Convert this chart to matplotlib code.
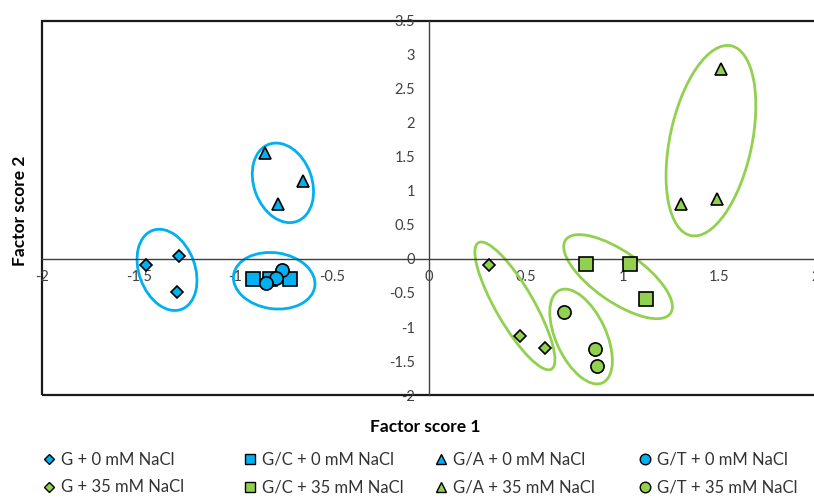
import numpy as np
import matplotlib
matplotlib.use("Agg")
import matplotlib.pyplot as plt
from matplotlib.patches import Ellipse, Rectangle
from matplotlib.transforms import ScaledTranslation
from matplotlib.ticker import FuncFormatter

plt.rcParams['font.family'] = ['Lato', 'DejaVu Sans']
plt.rcParams['axes.unicode_minus'] = False

blue = '#00B0F0'
green = '#92D050'

# factor scores
g0_x = [-1.46, -1.29, -1.30]
g0_y = [-0.09, 0.04, -0.49]
gc0_x = [-0.91, -0.82, -0.72]
gc0_y = [-0.29, -0.29, -0.29]
ga0_x = [-0.85, -0.65, -0.78]
ga0_y = [1.56, 1.15, 0.81]
gt0_x = [-0.76, -0.79, -0.84]
gt0_y = [-0.16, -0.28, -0.35]

g35_x = [0.31, 0.47, 0.60]
g35_y = [-0.09, -1.13, -1.31]
gc35_x = [0.81, 1.04, 1.12]
gc35_y = [-0.07, -0.07, -0.59]
ga35_x = [1.51, 1.49, 1.30]
ga35_y = [2.79, 0.88, 0.81]
gt35_x = [0.70, 0.86, 0.87]
gt35_y = [-0.78, -1.32, -1.57]

labels0 = ["G + 0 mM NaCl", "G/C + 0 mM NaCl", "G/A + 0 mM NaCl", "G/T + 0 mM NaCl"]
labels35 = ["G + 35 mM NaCl", "G/C + 35 mM NaCl", "G/A + 35 mM NaCl", "G/T + 35 mM NaCl"]

# group outlines: centre (data), width/height (inches), angle (deg), colour
groups = [
    ((-1.354, -0.16), 0.84, 0.56, 110, blue),
    ((-0.755, 1.12), 0.82, 0.58, 110, blue),
    ((-0.80, -0.32), 0.82, 0.56, -8, blue),
    ((0.444, -0.69), 1.46, 0.38, -60, green),
    ((0.786, -1.14), 1.02, 0.50, -65, green),
    ((0.977, -0.26), 1.28, 0.50, -35, green),
    ((1.457, 1.74), 1.94, 0.82, 78, green),
]

fig = plt.figure(figsize=(8.14, 4.98), dpi=100)
ax = fig.add_axes([42 / 814, 103 / 498, 774 / 814, 374 / 498])

series = [
    (g0_x, g0_y, 'D', 6.5, blue), (gc0_x, gc0_y, 's', 9.5, blue),
    (ga0_x, ga0_y, '^', 8.5, blue), (gt0_x, gt0_y, 'o', 9.5, blue),
    (g35_x, g35_y, 'D', 6.5, green), (gc35_x, gc35_y, 's', 9.5, green),
    (ga35_x, ga35_y, '^', 8.5, green), (gt35_x, gt35_y, 'o', 9.5, green),
]
handles = []
for x, y, m, ms, c in series:
    ax.plot(x, y, ls='none', marker=m, ms=ms, mfc=c, mec='black', mew=1.2, zorder=3)
    h, = ax.plot([], [], ls='none', marker=m, ms=ms * 0.8, mfc=c, mec='black', mew=1.0)
    handles.append(h)

for (cx, cy), w, h, ang, c in groups:
    tr = fig.dpi_scale_trans + ScaledTranslation(cx, cy, ax.transData)
    ax.add_patch(Ellipse((0, 0), w, h, angle=ang, transform=tr, fill=False,
                         ec=c, lw=2.0, zorder=2))

ax.set_xlim(-2, 2)
ax.set_ylim(-2, 3.5)
ax.set_xticks(np.arange(-2, 2.01, 0.5))
ax.set_yticks(np.arange(-2, 3.51, 0.5))
fmt = FuncFormatter(lambda v, p: '%g' % v)
ax.xaxis.set_major_formatter(fmt)
ax.yaxis.set_major_formatter(fmt)
ax.tick_params(length=0, labelsize=10.5, labelcolor='#404040')
ax.tick_params(axis='y', pad=10)
ax.tick_params(axis='x', pad=8)

ax.spines['left'].set_position(('data', 0))
ax.spines['bottom'].set_position(('data', 0))
ax.spines['top'].set_visible(False)
ax.spines['right'].set_visible(False)
for s in ['left', 'bottom']:
    ax.spines[s].set_color('#404040')
    ax.spines[s].set_linewidth(1.0)
ax.add_patch(Rectangle((0, 0), 1, 1, transform=ax.transAxes, fill=False,
                       ec='#1a1a1a', lw=1.6, clip_on=False, zorder=1))

fig.text(425 / 814, 1 - 427 / 498, "Factor score 1", ha='center', va='center',
         fontweight='bold', fontsize=12.5)
fig.text(20 / 814, 1 - 211 / 498, "Factor score 2", ha='center', va='center',
         rotation=90, fontweight='bold', fontsize=12.5)

col_x = [49, 250, 441, 645]
for i in range(4):
    fig.legend([handles[i], handles[i + 4]], [labels0[i], labels35[i]],
               loc='center left', bbox_to_anchor=((col_x[i] - 8) / 814, 1 - 473.5 / 498),
               frameon=False, fontsize=12, handlelength=0.9, handletextpad=0.3,
               borderpad=0, borderaxespad=0, labelspacing=0.7, labelcolor='#333333')

fig.savefig("out.png", dpi=100)
